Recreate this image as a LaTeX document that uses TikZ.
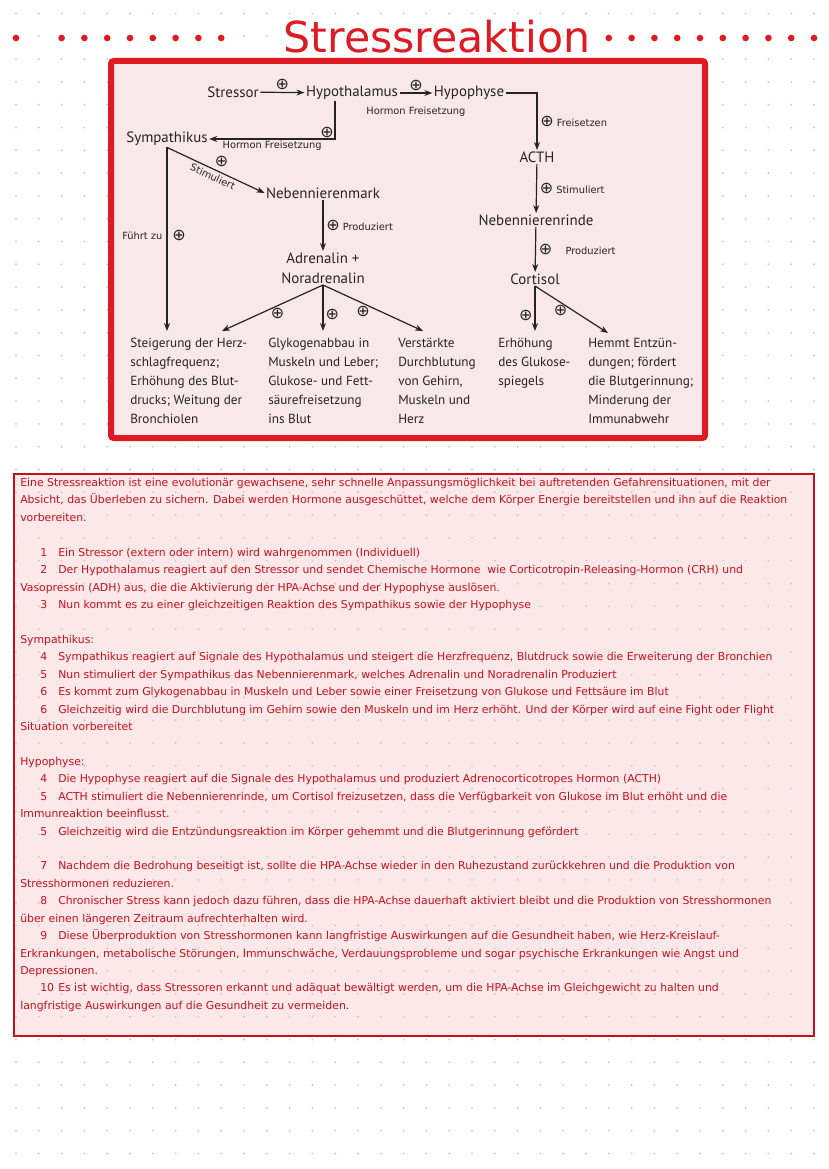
\documentclass[tikz,border=0pt]{standalone}
\usepackage{fontspec}
\setmainfont{PT Sans}
\newfontfamily\notefont{DejaVu Sans}
\usetikzlibrary{arrows.meta, positioning}
\definecolor{strred}{RGB}{222, 26, 34}
\definecolor{strdark}{RGB}{196, 18, 28}
\definecolor{strpink}{RGB}{248, 232, 234}
\definecolor{notepink}{RGB}{252, 231, 233}
\definecolor{diagink}{RGB}{38, 35, 37}
\definecolor{griddot}{RGB}{205, 205, 205}
\newcommand{\pluss}{{\notefont\fontsize{12}{12}\selectfont ⊕}}
\newcommand{\numline}[1]{\hspace*{15pt}\makebox[13.5pt][l]{#1}}
\tikzset{
  stage/.style = {
    text=diagink,
    font=\fontsize{11.2}{15}\selectfont,
    align=center,
    inner sep=1pt
  },
  effect/.style = {
    text=diagink,
    font=\fontsize{9.9}{14.25}\selectfont,
    align=left,
    anchor=north west,
    inner xsep=0pt,
    inner ysep=5pt
  },
  tag/.style = {
    text=diagink,
    font=\notefont\fontsize{7.4}{8}\selectfont,
    inner sep=1pt
  },
  plus/.style = {
    text=diagink,
    font=\notefont\fontsize{12}{12}\selectfont,
    inner sep=0.5pt
  },
  flowarrow/.style = {
    -{Stealth[length=6pt, width=4.5pt]},
    line width=0.9pt,
    draw=diagink
  },
  notetext/.style = {
    text=strdark,
    font=\notefont\fontsize{8.15}{13.07}\selectfont,
    align=left,
    anchor=north west,
    inner sep=0pt
  }
}

\begin{document}
\begin{tikzpicture}[x=0.75pt, y=-0.75pt]
  \useasboundingbox (0,0) rectangle (828,1169);
  \fill[white] (0,0) rectangle (828,1169);

  % Note box and dotted paper
  \fill[notepink] (14,474) rectangle (814,1036);
  \foreach \i in {0,...,35}
    \foreach \j in {0,...,50}
      \fill[griddot] (16+22.8*\i, 13.5+22.8*\j) circle (0.8pt);
  \draw[strdark, line width=1.5pt] (14,474) rectangle (814,1036);

  % Heading
  \node[text=strred, font=\notefont\fontsize{32}{32}\selectfont, inner sep=0pt] (title) at (437,37) {Stressreaktion};
  \foreach \k in {0,2,3,4,5,6,7,8,9,26,27,28,29,30,31,32,33,34,35}
    \fill[strred] (16+22.8*\k, 38) circle (2.5pt);

  % Diagram frame
  \draw[strred, line width=4.5pt, fill=strpink, rounded corners=2pt] (111,61) rectangle (705,438);

  % Main chain
  \node[stage] (stressor) at (233,92) {Stressor};
  \node[stage] (hypothal) at (352,93) {Hypothalamus};
  \node[stage] (hypophyse) at (469,93) {Hypophyse};
  \node[stage] (sympath) at (167,139) {Sympathikus};
  \node[stage] (nnm) at (323,193) {Nebennierenmark};
  \node[stage] (adrenalin) at (323,268) {Adrenalin +\\Noradrenalin};
  \node[stage] (acth) at (537,157) {ACTH};
  \node[stage] (nnr) at (536,220) {Nebennierenrinde};
  \node[stage] (cortisol) at (535,279) {Cortisol};

  % Effects
  \node[effect] (herz) at (130,331) {Steigerung der Herz-\\schlagfrequenz;\\Erhöhung des Blut-\\drucks; Weitung der\\Bronchiolen};
  \node[effect] (glyko) at (268,331) {Glykogenabbau in\\Muskeln und Leber;\\Glukose- und Fett-\\säurefreisetzung\\ins Blut};
  \node[effect] (durchbl) at (398,331) {Verstärkte\\Durchblutung\\von Gehirn,\\Muskeln und\\Herz};
  \node[effect] (glukose) at (498,331) {Erhöhung\\des Glukose-\\spiegels};
  \node[effect] (hemmt) at (588,331) {Hemmt Entzün-\\dungen; fördert\\die Blutgerinnung;\\Minderung der\\Immunabwehr};

  % Arrows
  \draw[flowarrow] (stressor) -- (hypothal) node[midway, above=1pt, plus] {⊕};
  \draw[flowarrow] (hypothal) -- (hypophyse)
    node[midway, above=1pt, plus] {⊕}
    node[midway, below=9pt, tag] {Hormon Freisetzung};
  \draw[flowarrow] ([xshift=-12.75pt]hypothal.south) |- (sympath.east)
    node[pos=0.5, above left=0pt, plus] {⊕}
    node[pos=0.75, below=0pt, tag] {Hormon Freisetzung};
  \draw[flowarrow] (hypophyse.east) -| (acth.north)
    node[pos=0.75, right=1pt, tag] {\pluss\ Freisetzen};
  \draw[flowarrow] (acth) -- (nnr) node[midway, right=1pt, tag] {\pluss\ Stimuliert};
  \draw[flowarrow] (nnr) -- (cortisol) node[midway, right=1pt, tag] {\pluss\hspace{10pt}Produziert};

  \draw[flowarrow] (sympath.south) -- (nnm.west)
    node[pos=0.56, above=4pt, plus] {⊕}
    node[pos=0.5, sloped, below=1pt, tag] {Stimuliert};
  \draw[flowarrow] (sympath.south) -- (sympath.south |- herz.north)
    node[pos=0.48, left=2pt, tag] {Führt zu}
    node[pos=0.48, right=3pt, plus] {⊕};
  \draw[flowarrow] (nnm) -- (adrenalin) node[midway, right=1pt, tag] {\pluss\ Produziert};

  \draw[flowarrow] (adrenalin.south) -- ([xshift=69pt]herz.north west) node[pos=0.45, below=1pt, plus] {⊕};
  \draw[flowarrow] (adrenalin.south) -- (adrenalin.south |- glyko.north) node[pos=0.63, right=1pt, plus] {⊕};
  \draw[flowarrow] (adrenalin.south) -- ([xshift=18.75pt]durchbl.north west) node[pos=0.4, below=1pt, plus] {⊕};

  \draw[flowarrow] (cortisol.south) -- (cortisol.south |- glukose.north) node[pos=0.65, left=1pt, plus] {⊕};
  \draw[flowarrow] (cortisol.south) -- ([xshift=15pt, yshift=-1.5pt]hemmt.north west) node[pos=0.35, below=1pt, plus] {⊕};

  % Notes
  \node[notetext] (notes) at (20,478) {%
Eine Stressreaktion ist eine evolutionär gewachsene, sehr schnelle Anpassungsmöglichkeit bei auftretenden Gefahrensituationen, mit der\\
Absicht, das Überleben zu sichern. Dabei werden Hormone ausgeschüttet, welche dem Körper Energie bereitstellen und ihn auf die Reaktion\\
vorbereiten.\\[13.07pt]
\numline{1}Ein Stressor (extern oder intern) wird wahrgenommen (Individuell)\\
\numline{2}Der Hypothalamus reagiert auf den Stressor und sendet Chemische Hormone~ wie Corticotropin-Releasing-Hormon (CRH) und\\
Vasopressin (ADH) aus, die die Aktivierung der HPA-Achse und der Hypophyse auslösen.\\
\numline{3}Nun kommt es zu einer gleichzeitigen Reaktion des Sympathikus sowie der Hypophyse\\[13.07pt]
Sympathikus:\\
\numline{4}Sympathikus reagiert auf Signale des Hypothalamus und steigert die Herzfrequenz, Blutdruck sowie die Erweiterung der Bronchien\\
\numline{5}Nun stimuliert der Sympathikus das Nebennierenmark, welches Adrenalin und Noradrenalin Produziert\\
\numline{6}Es kommt zum Glykogenabbau in Muskeln und Leber sowie einer Freisetzung von Glukose und Fettsäure im Blut\\
\numline{6}Gleichzeitig wird die Durchblutung im Gehirn sowie den Muskeln und im Herz erhöht. Und der Körper wird auf eine Fight oder Flight\\
Situation vorbereitet\\[13.07pt]
Hypophyse:\\
\numline{4}Die Hypophyse reagiert auf die Signale des Hypothalamus und produziert Adrenocorticotropes Hormon (ACTH)\\
\numline{5}ACTH stimuliert die Nebennierenrinde, um Cortisol freizusetzen, dass die Verfügbarkeit von Glukose im Blut erhöht und die\\
Immunreaktion beeinflusst.\\
\numline{5}Gleichzeitig wird die Entzündungsreaktion im Körper gehemmt und die Blutgerinnung gefördert\\[13.07pt]
\numline{7}Nachdem die Bedrohung beseitigt ist, sollte die HPA-Achse wieder in den Ruhezustand zurückkehren und die Produktion von\\
Stresshormonen reduzieren.\\
\numline{8}Chronischer Stress kann jedoch dazu führen, dass die HPA-Achse dauerhaft aktiviert bleibt und die Produktion von Stresshormonen\\
über einen längeren Zeitraum aufrechterhalten wird.\\
\numline{9}Diese Überproduktion von Stresshormonen kann langfristige Auswirkungen auf die Gesundheit haben, wie Herz-Kreislauf-\\
Erkrankungen, metabolische Störungen, Immunschwäche, Verdauungsprobleme und sogar psychische Erkrankungen wie Angst und\\
Depressionen.\\
\numline{10}Es ist wichtig, dass Stressoren erkannt und adäquat bewältigt werden, um die HPA-Achse im Gleichgewicht zu halten und\\
langfristige Auswirkungen auf die Gesundheit zu vermeiden.};
\end{tikzpicture}
\end{document}
